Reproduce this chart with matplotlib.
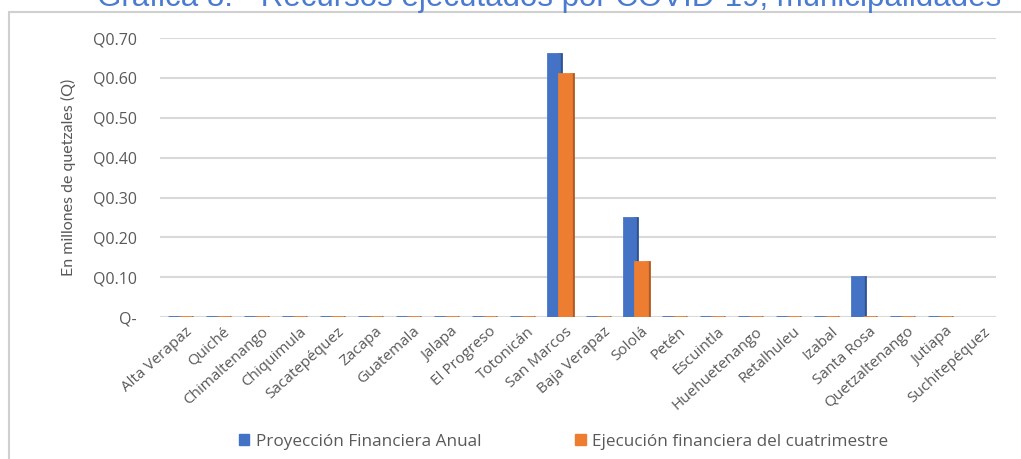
import matplotlib.pyplot as plt
from matplotlib.patches import Rectangle
import numpy as np

# Datos (millones de quetzales)
departamentos = ['Alta Verapaz', 'Quiché', 'Chimaltenango', 'Chiquimula', 'Sacatepéquez',
                 'Zacapa', 'Guatemala', 'Jalapa', 'El Progreso', 'Totonicán', 'San Marcos',
                 'Baja Verapaz', 'Sololá', 'Petén', 'Escuintla', 'Huehuetenango', 'Retalhuleu',
                 'Izabal', 'Santa Rosa', 'Quetzaltenango', 'Jutiapa', 'Suchitepéquez']
proyeccion = [0, 0, 0, 0, 0, 0, 0, 0, 0, 0, 0.66, 0, 0.248, 0, 0, 0, 0, 0, 0.10, 0, 0, np.nan]
ejecucion = [0, 0, 0, 0, 0, 0, 0, 0, 0, 0, 0.61, 0, 0.138, 0, 0, 0, 0, 0, 0, 0, 0, np.nan]
yticks = [0, 0.1, 0.2, 0.3, 0.4, 0.5, 0.6, 0.7]
ytick_labels = ['Q-', 'Q0.10', 'Q0.20', 'Q0.30', 'Q0.40', 'Q0.50', 'Q0.60', 'Q0.70']

azul, azul_osc = '#4472C4', '#2F528F'
naranja, naranja_osc = '#ED7D31', '#AE5A21'
gris = '#595959'

plt.rcParams['font.family'] = ['Open Sans', 'DejaVu Sans']

fig = plt.figure(figsize=(10.21, 4.59), dpi=100)
ax = fig.add_axes([0.157, 0.309, 0.819, 0.608])

x = np.arange(len(departamentos))
w = 0.31
lado = 0.06  # cara lateral oscura (efecto 3D)

for serie, off, c, c2 in [(proyeccion, -w / 2, azul, azul_osc), (ejecucion, w / 2, naranja, naranja_osc)]:
    vals = np.array(serie, dtype=float)
    ok = ~np.isnan(vals)
    ax.bar(x[ok] + off + w / 2 + lado / 2 - 0.01, vals[ok], lado, color=c2, edgecolor=c2,
           linewidth=2, zorder=3)
    ax.bar(x[ok] + off, vals[ok], w, color=c, edgecolor=c, linewidth=2, zorder=4)

ax.set_xlim(-0.5, len(departamentos) - 0.5)
ax.set_ylim(0, 0.7)
ax.set_yticks(yticks)
ax.set_yticklabels(ytick_labels)
ax.yaxis.grid(True, color='#D9D9D9', linewidth=1.5)
ax.set_axisbelow(True)
for s in ax.spines.values():
    s.set_visible(False)
ax.tick_params(axis='y', length=0, pad=17, labelsize=11.5, labelcolor=gris)
ax.tick_params(axis='x', length=0, pad=5, labelsize=11, labelcolor=gris)
ax.set_xticks(x + 0.15)
ax.set_xticklabels(departamentos, rotation=42, ha='right', rotation_mode='anchor')
ax.set_ylabel('En millones de quetzales (Q)', fontsize=11.5, color=gris, labelpad=12,
              fontfamily=['Liberation Sans Narrow', 'Lato', 'DejaVu Sans'])

handles = [Rectangle((0, 0), 1, 1, color=azul), Rectangle((0, 0), 1, 1, color=naranja)]
fig.legend(handles, ['Proyección Financiera Anual', 'Ejecución financiera del cuatrimestre'],
           loc='center', bbox_to_anchor=(0.552, 0.038), ncol=2, frameon=False, fontsize=12.3,
           handlelength=0.6, handleheight=0.6, handletextpad=0.4, columnspacing=5.5,
           labelcolor=gris)

# marco del gráfico
fig.patches.append(Rectangle((0.009, -0.05), 1.2, 1.024, transform=fig.transFigure,
                             fill=False, edgecolor='#D0D0D0', linewidth=1.5))
fig.text(0.538, 1.005, 'Gráfica 8. - Recursos ejecutados por COVID-19, municipalidades',
         ha='center', va='center', fontsize=22.5, color='#4A7BD0',
         fontfamily=['Liberation Sans', 'DejaVu Sans'])

fig.savefig('out.png', dpi=100)
